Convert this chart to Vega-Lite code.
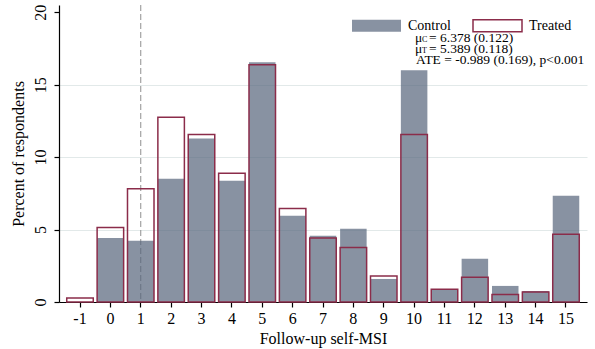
{
  "$schema": "https://vega.github.io/schema/vega-lite/v6.json",
  "width": 528,
  "height": 297,
  "autosize": {"type": "none"},
  "padding": {"left": 59, "top": 5, "right": 8, "bottom": 47},
  "background": "white",
  "config": {
    "view": {"stroke": null},
    "font": "Liberation Serif",
    "text": {"font": "Liberation Serif", "color": "black"},
    "axis": {
      "domainColor": "black",
      "domainWidth": 1.2,
      "tickColor": "black",
      "tickWidth": 1.2,
      "tickSize": 5,
      "labelColor": "black",
      "labelFontSize": 16,
      "titleColor": "black",
      "titleFontSize": 16,
      "titleFontWeight": "normal"
    }
  },
  "layer": [
    {
      "data": {"values": [{"msi": 1}]},
      "mark": {"type": "rule", "strokeDash": [6, 3], "color": "#8f8f8f", "strokeWidth": 1},
      "encoding": {"x": {"field": "msi", "type": "ordinal"}}
    },
    {
      "data": {
        "values": [
          {"msi": -1, "group": "Control", "pct": 0},
          {"msi": 0, "group": "Control", "pct": 4.41},
          {"msi": 1, "group": "Control", "pct": 4.22},
          {"msi": 2, "group": "Control", "pct": 8.51},
          {"msi": 3, "group": "Control", "pct": 11.28},
          {"msi": 4, "group": "Control", "pct": 8.37},
          {"msi": 5, "group": "Control", "pct": 16.54},
          {"msi": 6, "group": "Control", "pct": 5.95},
          {"msi": 7, "group": "Control", "pct": 4.57},
          {"msi": 8, "group": "Control", "pct": 5.05},
          {"msi": 9, "group": "Control", "pct": 1.59},
          {"msi": 10, "group": "Control", "pct": 15.99},
          {"msi": 11, "group": "Control", "pct": 0.88},
          {"msi": 12, "group": "Control", "pct": 2.98},
          {"msi": 13, "group": "Control", "pct": 1.11},
          {"msi": 14, "group": "Control", "pct": 0.76},
          {"msi": 15, "group": "Control", "pct": 7.34},
          {"msi": -1, "group": "Treated", "pct": 0.27},
          {"msi": 0, "group": "Treated", "pct": 5.14},
          {"msi": 1, "group": "Treated", "pct": 7.82},
          {"msi": 2, "group": "Treated", "pct": 12.75},
          {"msi": 3, "group": "Treated", "pct": 11.56},
          {"msi": 4, "group": "Treated", "pct": 8.88},
          {"msi": 5, "group": "Treated", "pct": 16.38},
          {"msi": 6, "group": "Treated", "pct": 6.46},
          {"msi": 7, "group": "Treated", "pct": 4.41},
          {"msi": 8, "group": "Treated", "pct": 3.76},
          {"msi": 9, "group": "Treated", "pct": 1.8},
          {"msi": 10, "group": "Treated", "pct": 11.56},
          {"msi": 11, "group": "Treated", "pct": 0.88},
          {"msi": 12, "group": "Treated", "pct": 1.71},
          {"msi": 13, "group": "Treated", "pct": 0.51},
          {"msi": 14, "group": "Treated", "pct": 0.69},
          {"msi": 15, "group": "Treated", "pct": 4.68}
        ]
      },
      "mark": {"type": "bar", "strokeWidth": 1.5},
      "encoding": {
        "x": {
          "field": "msi",
          "type": "ordinal",
          "scale": {
            "domain": [-1, 0, 1, 2, 3, 4, 5, 6, 7, 8, 9, 10, 11, 12, 13, 14, 15],
            "paddingInner": 0.127,
            "paddingOuter": 0.255
          },
          "axis": {
            "title": "Follow-up self-MSI",
            "labelAngle": 0,
            "labelAlign": "center",
            "labelBaseline": "top",
            "labelPadding": 3,
            "titlePadding": 4,
            "grid": false
          }
        },
        "y": {
          "field": "pct",
          "type": "quantitative",
          "stack": null,
          "scale": {"domain": [0, 20.5], "nice": false},
          "axis": {
            "title": "Percent of respondents",
            "values": [0, 5, 10, 15, 20],
            "labelAngle": 270,
            "labelAlign": "center",
            "labelBaseline": "bottom",
            "labelPadding": 6,
            "titlePadding": 6,
            "grid": true,
            "gridColor": "#e2e9e9",
            "gridWidth": 1,
            "gridOpacity": {"condition": {"test": "datum.value === 20", "value": 0}, "value": 1}
          }
        },
        "fill": {
          "field": "group",
          "type": "nominal",
          "scale": {"domain": ["Control", "Treated"], "range": ["rgba(86,100,122,0.7)", "rgba(255,255,255,0)"]},
          "legend": {
            "title": null,
            "orient": "none",
            "legendX": 292,
            "legendY": -5,
            "direction": "horizontal",
            "symbolType": "M-1,-0.245H1V0.245H-1Z",
            "symbolSize": 2401,
            "symbolStrokeWidth": 1.5,
            "labelFontSize": 14,
            "labelColor": "black",
            "labelOffset": 6,
            "columnPadding": 19,
            "padding": 0
          }
        },
        "stroke": {
          "field": "group",
          "type": "nominal",
          "scale": {"domain": ["Control", "Treated"], "range": ["rgba(0,0,0,0)", "#8b2c4a"]},
          "legend": {
            "title": null,
            "orient": "none",
            "legendX": 292,
            "legendY": -5,
            "direction": "horizontal",
            "symbolType": "M-1,-0.245H1V0.245H-1Z",
            "symbolSize": 2401,
            "symbolStrokeWidth": 1.5,
            "labelFontSize": 14,
            "labelColor": "black",
            "labelOffset": 6,
            "columnPadding": 19,
            "padding": 0
          }
        }
      }
    },
    {
      "data": {
        "values": [
          {"msi": 10, "line": 18.25, "sym": "μ", "sub": "C", "rest": "= 6.378 (0.122)"},
          {"msi": 10, "line": 17.46, "sym": "μ", "sub": "T", "rest": "= 5.389 (0.118)"}
        ]
      },
      "layer": [
        {
          "mark": {"type": "text", "align": "left", "baseline": "middle", "fontSize": 13.5, "dx": 1},
          "encoding": {
            "x": {"field": "msi", "type": "ordinal"},
            "y": {"field": "line", "type": "quantitative"},
            "text": {"field": "sym"}
          }
        },
        {
          "mark": {"type": "text", "align": "left", "baseline": "middle", "fontSize": 8, "dx": 8, "dy": 2},
          "encoding": {
            "x": {"field": "msi", "type": "ordinal"},
            "y": {"field": "line", "type": "quantitative"},
            "text": {"field": "sub"}
          }
        },
        {
          "mark": {"type": "text", "align": "left", "baseline": "middle", "fontSize": 13.5, "dx": 15},
          "encoding": {
            "x": {"field": "msi", "type": "ordinal"},
            "y": {"field": "line", "type": "quantitative"},
            "text": {"field": "rest"}
          }
        }
      ]
    },
    {
      "data": {"values": [{"msi": 10, "line": 16.68, "label": "ATE = -0.989 (0.169), p<0.001"}]},
      "mark": {"type": "text", "align": "left", "baseline": "middle", "fontSize": 13.5, "dx": 2},
      "encoding": {
        "x": {"field": "msi", "type": "ordinal"},
        "y": {"field": "line", "type": "quantitative"},
        "text": {"field": "label"}
      }
    }
  ]
}
